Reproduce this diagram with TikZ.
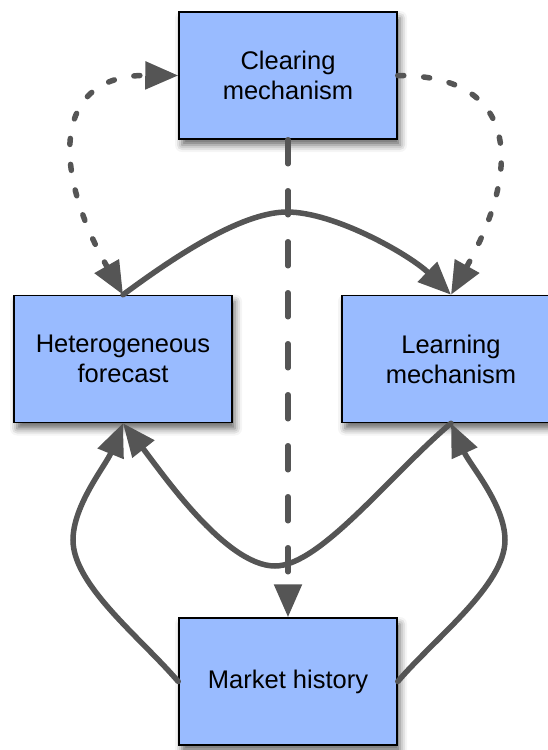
\documentclass[tikz,border=0pt]{standalone}
\usepackage{fontspec}
\setmainfont{Liberation Sans}
\usetikzlibrary{arrows.meta,shadows.blur}
\definecolor{boxfill}{RGB}{153,187,255}
\definecolor{linegray}{RGB}{85,85,85}
\begin{document}
\begin{tikzpicture}[x=1pt,y=-1pt,
  >={Triangle[length=33pt,width=27pt]},
  box/.style={draw=black, line width=1.5pt, fill=boxfill,
    minimum width=218pt, minimum height=127pt, inner sep=0pt,
    align=center, font=\fontsize{25.5}{30}\selectfont,
    blur shadow={shadow xshift=3pt, shadow yshift=-6pt, shadow blur radius=7pt, shadow opacity=60}},
  conn/.style={draw=linegray, line width=5.5pt, line cap=round},
  dotline/.style={conn, dash pattern=on 6pt off 20pt},
  dashline/.style={conn, dash pattern=on 24pt off 27pt},
]
\useasboundingbox (0,0) rectangle (548,750);
\clip (0,0) rectangle (548,750);

\node[box] (clr) at (288,75.5) {Clearing\\mechanism};
\node[box] (het) at (123,359) {Heterogeneous\\forecast};
\node[box] (lrn) at (451,359) {Learning\\mechanism};
\node[box] (mkt) at (288,681.5) {Market history};

\coordinate (top) at (287,212);
\coordinate (bot) at (275,566);
\coordinate (lbend) at (73,540);
\coordinate (rbend) at (505,540);

\draw[dotline, <->] (het.north) .. controls (52,170) and (52,75) .. (clr.west);
\draw[dotline, ->] (clr.east) .. controls (521,75) and (521,170) .. (lrn.north);
\draw[dashline, ->] (clr.south) -- (mkt.north);
\draw[conn, ->] (het.north) .. controls (170,260) and (240,212) .. (top)
  .. controls (335,212) and (410,255) .. (lrn.north);
\draw[conn, ->] (lrn.south) .. controls (390,475) and (320,566) .. (bot)
  .. controls (225,566) and (160,470) .. (het.south);
\draw[conn, ->] (mkt.west) .. controls (140,637) and (73,585) .. (lbend)
  .. controls (73,505) and (106,465) .. (het.south);
\draw[conn, ->] (mkt.east) .. controls (436,637) and (505,585) .. (rbend)
  .. controls (505,505) and (470,465) .. (lrn.south);
\end{tikzpicture}
\end{document}
